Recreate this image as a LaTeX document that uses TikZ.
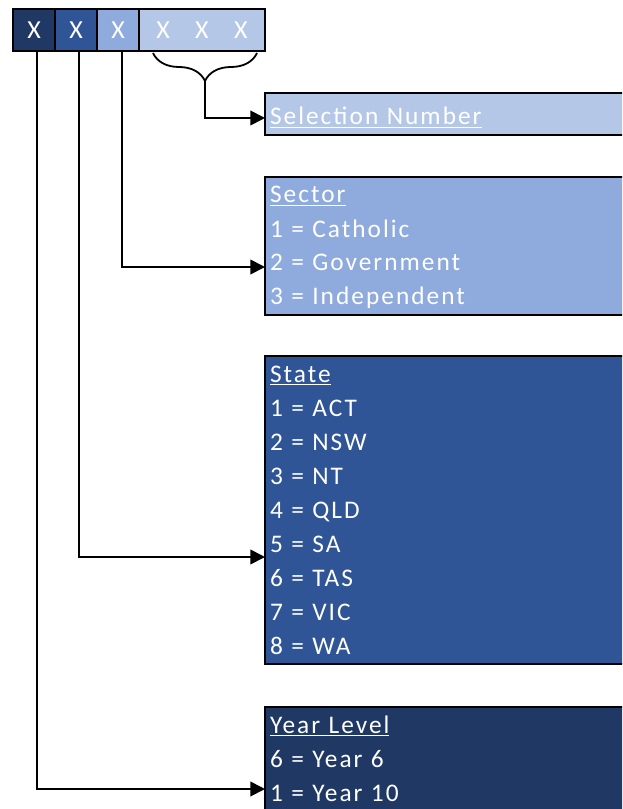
\documentclass[tikz,border=0pt]{standalone}
\usepackage{fontspec}
\setmainfont{Carlito}[LetterSpace=8]
\usetikzlibrary{arrows.meta,decorations.pathreplacing}
\definecolor{yearblue}{HTML}{203864}
\definecolor{stateblue}{HTML}{2F5597}
\definecolor{sectorblue}{HTML}{8FAADC}
\definecolor{selblue}{HTML}{B4C7E7}
\newcommand{\rowstrut}{\rule[-6.75pt]{0pt}{25.5pt}}

\begin{document}
\begin{tikzpicture}[x=0.75pt, y=-0.75pt,
	codebox/.style={draw=black, line width=1.5pt, text=white, minimum width=31.5pt, minimum height=31.5pt, inner sep=0pt, outer sep=0pt, anchor=north west, font=\fontsize{19.5}{22}\selectfont},
	infobox/.style={draw=black, line width=1.5pt, text=white, anchor=north west, align=left, text width=285pt, inner xsep=3.75pt, inner ysep=0.75pt, outer sep=0pt, font=\fontsize{19}{25.5}\selectfont},
	link/.style={line width=1.35pt, -{Triangle[length=11pt,width=11pt]}}]
			%%%%% START %%%%%
			
			\useasboundingbox (0, 0) rectangle (622, 809);
			\clip (0, 0) rectangle (622, 809);
			
			% code boxes
			\node[codebox, fill=yearblue] (codeA) at (13, 9) {X};
			\node[codebox, fill=stateblue] (codeB) at (55, 9) {X};
			\node[codebox, fill=sectorblue] (codeC) at (97, 9) {X};
			\node[codebox, fill=selblue, minimum width=94.5pt] (codeD) at (139, 9) {X\hspace{19pt}X\hspace{19pt}X};
			
			\draw[line width=1.35pt, decorate, decoration={brace, mirror, amplitude=21pt}] (153, 53) -- (257, 53);
			\coordinate (bracetip) at (205, 81);
			
			% info boxes
			\node[infobox, fill=selblue] (sel) at (265, 93) {\rule[-6.75pt]{0pt}{30pt}\underline{Selection Number}};
			\node[infobox, fill=sectorblue] (sector) at (265, 177) {\rowstrut\underline{Sector}\\
				\rowstrut 1 = Catholic\\
				\rowstrut 2 = Government\\
				\rowstrut 3 = Independent};
			\node[infobox, fill=stateblue] (state) at (265, 356) {\rowstrut\underline{State}\\
				\rowstrut 1 = ACT\\
				\rowstrut 2 = NSW\\
				\rowstrut 3 = NT\\
				\rowstrut 4 = QLD\\
				\rowstrut 5 = SA\\
				\rowstrut 6 = TAS\\
				\rowstrut 7 = VIC\\
				\rowstrut 8 = WA};
			\node[infobox, fill=yearblue] (year) at (265, 707) {\rowstrut\underline{Year Level}\\
				\rowstrut 6 = Year 6\\
				\rowstrut 1 = Year 10};
			
			% connectors
			\draw[link] (bracetip) |- ([yshift=-3pt]sel.west);
			\draw[link] ([xshift=3pt]codeC.south) |- ([yshift=-15.75pt]sector.west);
			\draw[link] ([xshift=2.5pt]codeB.south) |- ([yshift=-35.25pt]state.west);
			\draw[link] ([xshift=2.5pt]codeA.south) |- ([yshift=-22.5pt]year.west);
			
			%%%%% END %%%%%
\end{tikzpicture}
\end{document}
